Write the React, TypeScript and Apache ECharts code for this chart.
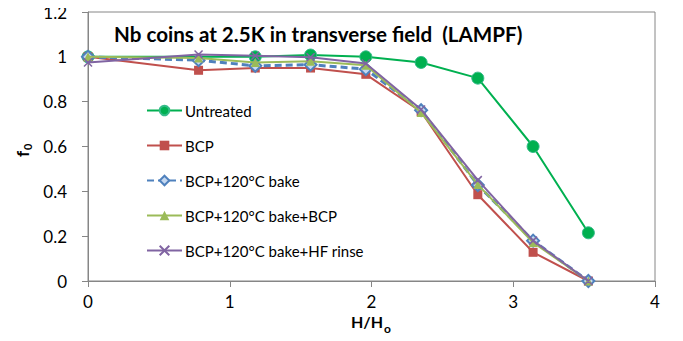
import React, { useEffect, useRef } from "react";
import * as echarts from "echarts";

const xValues = [0, 0.78, 1.18, 1.57, 1.96, 2.35, 2.75, 3.14, 3.53];
const untreated = [1.0, null, 1.0, 1.008, 1.0, 0.975, 0.905, 0.6, 0.215];
const bcp = [1.0, 0.94, 0.95, 0.95, 0.922, 0.755, 0.385, 0.128, 0.0];
const bcpBake = [1.0, 0.985, 0.96, 0.965, 0.945, 0.762, 0.428, 0.18, 0.0];
const bcpBakeBcp = [1.0, 0.995, 0.975, 0.98, 0.962, 0.752, 0.43, 0.172, 0.0];
const bcpBakeHf = [0.975, 1.01, 1.005, 0.998, 0.97, 0.765, 0.45, 0.18, 0.0];
const seriesNames = [
  "Untreated",
  "BCP",
  "BCP+120°C bake",
  "BCP+120°C bake+BCP",
  "BCP+120°C bake+HF rinse",
];
const xTicks = [0, 1, 2, 3, 4];
const yTicks = [0, 0.2, 0.4, 0.6, 0.8, 1.0, 1.2];
const titleText = "Nb coins at 2.5K in transverse field  (LAMPF)";

const FONT = "Lato, 'Open Sans', sans-serif";

function pairs(vals: (number | null)[]) {
  const out: [number, number][] = [];
  vals.forEach((v, i) => {
    if (v !== null) out.push([xValues[i], v]);
  });
  return out;
}

export default function App() {
  const ref = useRef<HTMLDivElement>(null);
  useEffect(() => {
    if (!ref.current) return;
    const chart = echarts.init(ref.current, null, { renderer: "svg" });
    const option: any = {
      animation: false,
      backgroundColor: "#ffffff",
      textStyle: { fontFamily: FONT },
      title: {
        text: titleText,
        left: 114,
        top: 23,
        padding: 0,
        textStyle: { fontFamily: FONT, fontSize: 20.6, fontWeight: "bold", color: "#000" },
      },
      legend: {
        orient: "vertical",
        left: 146,
        top: 103,
        padding: 0,
        itemGap: 20,
        itemWidth: 35,
        itemHeight: 12,
        textStyle: { fontFamily: FONT, fontSize: 15, color: "#000", padding: [0, 0, 0, -2] },
        data: seriesNames,
      },
      grid: {
        left: 88,
        right: 28,
        top: 12,
        bottom: 60,
        show: true,
        borderColor: "#868686",
        borderWidth: 1,
      },
      xAxis: {
        type: "value",
        min: xTicks[0],
        max: xTicks[xTicks.length - 1],
        interval: 1,
        axisLine: { lineStyle: { color: "#868686" } },
        axisTick: { show: true, length: 6, inside: false, lineStyle: { color: "#868686" } },
        axisLabel: { fontFamily: FONT, fontSize: 17, color: "#000", margin: 12 },
        splitLine: { show: false },
      },
      yAxis: {
        type: "value",
        min: yTicks[0],
        max: yTicks[yTicks.length - 1],
        interval: 0.2,
        axisLine: { show: true, lineStyle: { color: "#868686" } },
        axisTick: { show: true, length: 6, inside: false, lineStyle: { color: "#868686" } },
        axisLabel: {
          fontFamily: FONT,
          fontSize: 17,
          color: "#000",
          margin: 21,
          formatter: (v: number) => String(Math.round(v * 10) / 10),
        },
        splitLine: { show: false },
      },
      graphic: [
        {
          type: "group",
          x: 22,
          y: 151,
          rotation: Math.PI / 2,
          children: [
            {
              type: "text",
              x: 0,
              y: 0,
              style: {
                text: "f",
                font: `bold 17px ${FONT}`,
                fill: "#000",
                align: "right",
                verticalAlign: "middle",
              },
            },
            {
              type: "text",
              x: 1,
              y: 5,
              style: {
                text: "0",
                font: `bold 11px ${FONT}`,
                fill: "#000",
                align: "left",
                verticalAlign: "middle",
              },
            },
          ],
        },
        {
          type: "text",
          x: 383,
          y: 321,
          style: {
            text: "H/H",
            font: `bold 16px ${FONT}`,
            fill: "#000",
            align: "right",
            verticalAlign: "middle",
          },
        },
        {
          type: "text",
          x: 384,
          y: 328,
          style: {
            text: "o",
            font: `bold 12px ${FONT}`,
            fill: "#000",
            align: "left",
            verticalAlign: "middle",
          },
        },
      ],
      series: [
        {
          name: seriesNames[0],
          type: "line",
          data: pairs(untreated),
          symbol: "circle",
          symbolSize: 12,
          lineStyle: { color: "#00B050", width: 2 },
          itemStyle: { color: "#00B050", borderColor: "#33bb88", borderWidth: 1 },
          z: 2,
        },
        {
          name: seriesNames[1],
          type: "line",
          data: pairs(bcp),
          symbol: "rect",
          symbolSize: 9,
          lineStyle: { color: "#C0504D", width: 2 },
          itemStyle: { color: "#C0504D" },
          z: 3,
        },
        {
          name: seriesNames[2],
          type: "line",
          data: pairs(bcpBake),
          symbol: "diamond",
          symbolSize: 12,
          lineStyle: { color: "#4F81BD", width: 3, type: [7, 4] },
          itemStyle: { color: "#c6d9f1", borderColor: "#4F81BD", borderWidth: 2 },
          z: 4,
        },
        {
          name: seriesNames[3],
          type: "line",
          data: pairs(bcpBakeBcp),
          symbol: "triangle",
          symbolSize: 9,
          lineStyle: { color: "#9BBB59", width: 2 },
          itemStyle: { color: "#9BBB59" },
          z: 5,
        },
        {
          name: seriesNames[4],
          type: "line",
          data: pairs(bcpBakeHf),
          symbol: "path://M0,0 L10,10 M10,0 L0,10 M0,0 L10,10 Z",
          symbolSize: 8,
          lineStyle: { color: "#8064A2", width: 2 },
          itemStyle: { color: "#8064A2", borderColor: "#8064A2", borderWidth: 1.5 },
          z: 6,
        },
      ],
    };
    chart.setOption(option);
    return () => chart.dispose();
  }, []);
  return <div ref={ref} style={{ width: 683, height: 341, margin: -8 }} />;
}
